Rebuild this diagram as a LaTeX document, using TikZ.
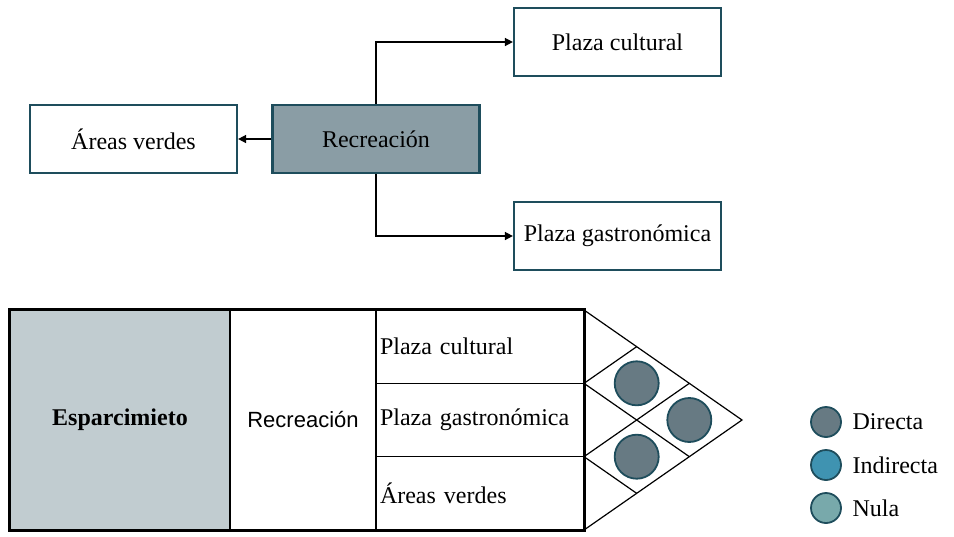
\documentclass[tikz,border=0pt]{standalone}
\usepackage{fontspec}
\setmainfont{Liberation Serif}
\setsansfont{Liberation Sans}
\usetikzlibrary{arrows.meta, positioning, calc}
\definecolor{tealdk}{HTML}{1E4D5C}
\definecolor{recfill}{HTML}{8A9DA5}
\definecolor{espfill}{HTML}{C1CCD0}
\definecolor{directa}{HTML}{677A83}
\definecolor{indirecta}{HTML}{3F93B1}
\definecolor{nula}{HTML}{78A9AB}

\begin{document}
\begin{tikzpicture}[x=1pt, y=-1pt, >={Triangle[length=8pt, width=8pt]}, line width=1.5pt,
  caja/.style={draw=tealdk, line width=2.2pt, fill=white, minimum width=207pt,
    minimum height=68pt, inner sep=0pt, font=\fontsize{24}{28}\selectfont},
  celda/.style={draw=black, line width=1.5pt, inner sep=0pt, minimum height=220pt,
    font=\fontsize{24}{28}\selectfont},
  fila/.style={draw=black, line width=1.5pt, minimum width=208pt, minimum height=73.3pt,
    text width=200pt, align=left, inner sep=4pt, font=\fontsize{24}{28}\selectfont},
  punto/.style={circle, draw=tealdk, line width=1.8pt, inner sep=0pt, minimum size=44pt},
  leyenda/.style={inner sep=2pt, font=\fontsize{24}{28}\selectfont}]

\useasboundingbox (0,0) rectangle (954,536);

% ========== Top: Recreacion tree ==========
\node[caja, fill=recfill] (recre) at (376,139) {Recreación};
\node[caja] (areas) at (133.5,139) {Áreas verdes};
\node[caja] (cultural) at (617.5,42) {Plaza cultural};
\node[caja] (gastro) at (617.5,236) {Plaza gastronómica};

\draw[->] (recre.west) -- (areas.east);
\draw[->] (recre.north) |- (cultural.west);
\draw[->] (recre.south) |- (gastro.west);

% ========== Bottom: table ==========
\node[celda, fill=espfill, minimum width=220pt] (espar) at (120,420) {\bfseries Esparcimieto};
\node[celda, minimum width=146pt, font=\fontsize{22}{26}\sffamily] (recre2) at (303,420) {Recreación};
\node[fila] (fila1) at (480,346.7) {Plaza cultural};
\node[fila] (fila2) at (480,420) {Plaza gastronómica};
\node[fila] (fila3) at (480,493.3) {Áreas verdes};
\draw[line width=2.4pt] (espar.north west) rectangle (fila3.south east);

% Roof with diamonds
\coordinate (pA) at (584,310);
\coordinate (pT) at (742,420);
\coordinate (pB) at (584,530);
\draw[line width=1.2pt] (pA) -- (pT) -- (pB);
\draw[line width=1.2pt] ($(pA)!1/3!(pB)$) -- ($(pA)!1/3!(pT)$);
\draw[line width=1.2pt] ($(pA)!2/3!(pB)$) -- ($(pA)!2/3!(pT)$);
\draw[line width=1.2pt] ($(pA)!1/3!(pB)$) -- ($(pT)!1/3!(pB)$);
\draw[line width=1.2pt] ($(pA)!2/3!(pB)$) -- ($(pT)!2/3!(pB)$);

\node[punto, fill=directa] (rel1) at (636.7,383.3) {};
\node[punto, fill=directa] (rel2) at (689.3,420) {};
\node[punto, fill=directa] (rel3) at (636.7,456.7) {};

% Legend
\node[punto, minimum size=30pt, fill=directa] (ldir) at (826,422) {};
\node[punto, minimum size=30pt, fill=indirecta] (lind) at (826,465) {};
\node[punto, minimum size=30pt, fill=nula] (lnul) at (826,508) {};
\node[leyenda, right=8pt of ldir] (tdir) {Directa};
\node[leyenda, right=8pt of lind] (tind) {Indirecta};
\node[leyenda, right=8pt of lnul] (tnul) {Nula};

\end{tikzpicture}
\end{document}
